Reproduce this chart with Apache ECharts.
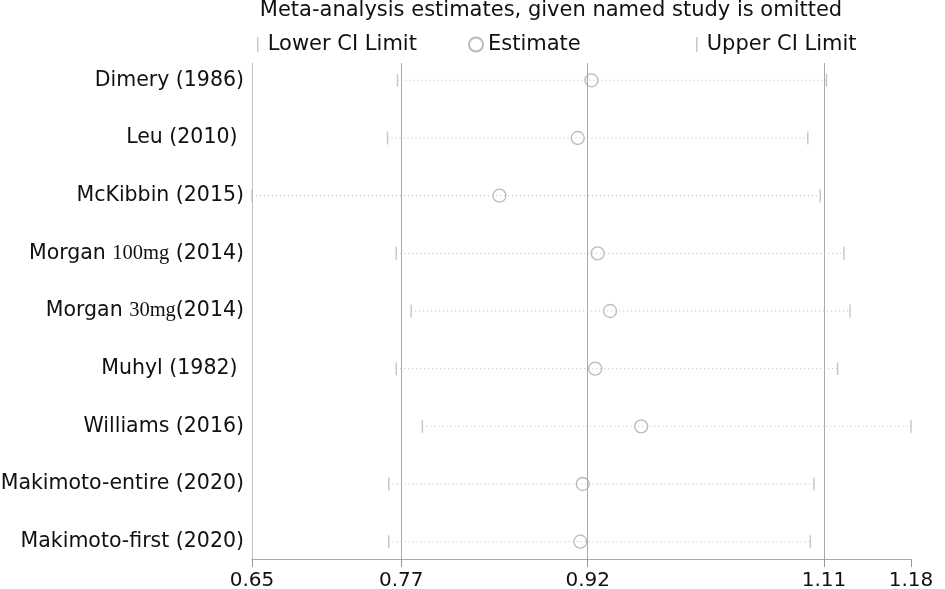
<!DOCTYPE html>
<html>
<head>
<meta charset="utf-8">
<script src="https://cdn.jsdelivr.net/npm/echarts@6/dist/echarts.min.js"></script>
<style>
  html, body { margin: 0; padding: 0; background: #fff; }
  #chart { width: 945px; height: 589px; }
</style>
</head>
<body>
<div id="chart"></div>
<script>
// studies top to bottom (row index = position in this list)
var studies = [
  'Dimery (1986)',
  'Leu (2010) ',
  'McKibbin (2015)',
  'Morgan 100mg (2014)',
  'Morgan 30mg(2014)',
  'Muhyl (1982) ',
  'Williams (2016)',
  'Makimoto-entire (2020)',
  'Makimoto-first (2020)'
];
var lowerCI  = [0.767, 0.759, 0.650, 0.766, 0.778, 0.766, 0.787, 0.760, 0.760];
var estimate = [0.923, 0.912, 0.849, 0.928, 0.938, 0.926, 0.963, 0.916, 0.914];
var upperCI  = [1.112, 1.097, 1.107, 1.126, 1.131, 1.121, 1.180, 1.102, 1.099];
var xTicks = [0.65, 0.77, 0.92, 1.11, 1.18];
var rowTicks = [0, 1, 2, 3, 4, 5, 6, 7, 8];

var FONT = 'DejaVu Sans';
var lineIcon = 'path://M0,0H1V10H0Z';

function pairs(vals) {
  return vals.map(function (v, i) { return [v, i]; });
}

var chart = echarts.init(document.getElementById('chart'));

chart.setOption({
  animation: false,
  title: {
    text: 'Meta-analysis estimates, given named study is omitted',
    left: 551, textAlign: 'center', top: 0, padding: 0,
    textStyle: { fontFamily: FONT, fontSize: 21, fontWeight: 'normal', color: '#111' }
  },
  legend: [
    {
      left: 252, top: 29, itemWidth: 10, itemHeight: 15,
      data: [{ name: 'Lower CI Limit', icon: lineIcon }],
      textStyle: { fontFamily: FONT, fontSize: 21, color: '#111' }
    },
    {
      left: 463, top: 29, itemWidth: 14, itemHeight: 14,
      data: [{ name: 'Estimate', icon: 'circle' }],
      textStyle: { fontFamily: FONT, fontSize: 21, color: '#111' }
    },
    {
      left: 691, top: 29, itemWidth: 10, itemHeight: 15,
      data: [{ name: 'Upper CI Limit', icon: lineIcon }],
      textStyle: { fontFamily: FONT, fontSize: 21, color: '#111' }
    }
  ],
  grid: { left: 252, right: 34, top: 63, bottom: 30, containLabel: false, outerBoundsMode: 'none' },
  xAxis: {
    type: 'value', min: 0.65, max: 1.18,
    axisLine: { onZero: false, lineStyle: { color: '#aaa' } },
    axisTick: { customValues: xTicks, length: 8, lineStyle: { color: '#999' } },
    axisLabel: {
      customValues: xTicks, margin: 12,
      fontFamily: FONT, fontSize: 20, color: '#111',
      formatter: function (v) { return v.toFixed(2); }
    },
    splitLine: { show: true, showMinLine: false, showMaxLine: false,
      lineStyle: { color: '#aaa', width: 1 } }
  },
  yAxis: {
    type: 'value', min: -0.3, max: 8.3, inverse: true,
    axisLine: { show: true, onZero: false, lineStyle: { color: '#c0c0c0' } },
    axisTick: { show: false, customValues: rowTicks },
    splitLine: { show: false },
    axisLabel: {
      customValues: rowTicks,
      margin: 8, fontFamily: FONT, fontSize: 20.5, color: '#111',
      formatter: function (v) { return studies[v].replace(/(\d+mg)/, '{s|$1}'); },
      rich: { s: { fontFamily: 'Liberation Serif', fontSize: 20.5, color: '#111' } }
    }
  },
  series: [
    {
      type: 'custom', name: 'range', silent: true,
      data: studies.map(function (s, i) { return [lowerCI[i], upperCI[i], i]; }),
      encode: { x: [0, 1], y: 2 },
      renderItem: function (params, api) {
        var a = api.coord([api.value(0), api.value(2)]);
        var b = api.coord([api.value(1), api.value(2)]);
        return {
          type: 'line',
          shape: { x1: a[0], y1: a[1], x2: b[0], y2: b[1] },
          style: { stroke: '#bcbcbc', lineWidth: 1, lineDash: [1, 3] }
        };
      }
    },
    {
      type: 'scatter', name: 'Lower CI Limit', data: pairs(lowerCI),
      symbol: 'rect', symbolSize: [1.5, 13],
      itemStyle: { color: '#bbb' }
    },
    {
      type: 'scatter', name: 'Estimate', data: pairs(estimate),
      symbol: 'circle', symbolSize: 13,
      itemStyle: { color: 'rgba(0,0,0,0)', borderColor: '#aaa', borderWidth: 1.3 }
    },
    {
      type: 'scatter', name: 'Upper CI Limit', data: pairs(upperCI),
      symbol: 'rect', symbolSize: [1.5, 13],
      itemStyle: { color: '#bbb' }
    }
  ]
});
</script>
</body>
</html>
